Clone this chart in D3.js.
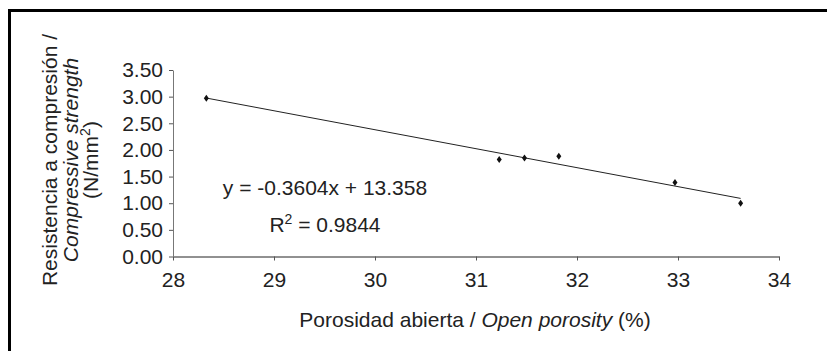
<!DOCTYPE html>
<html><head><meta charset="utf-8">
<script src="https://cdn.jsdelivr.net/npm/d3@7"></script>
<style>body{margin:0;background:#fff}svg{display:block}text{font-family:"Liberation Sans",Arial,sans-serif;fill:#222}</style>
</head><body>
<script>
const porosity = [28.33, 31.23, 31.48, 31.82, 32.97, 33.62];
const strength = [2.97, 1.82, 1.85, 1.88, 1.39, 1.00];
const xTicks = [28, 29, 30, 31, 32, 33, 34];
const yTicks = [0, 0.5, 1, 1.5, 2, 2.5, 3, 3.5];
const eqText = "y = -0.3604x + 13.358";
const r2Value = "0.9844";

const W = 827, H = 351;
const svg = d3.select("body").append("svg").attr("width", W).attr("height", H);

// outer frame
svg.append("rect").attr("x", 9.5).attr("y", 10.5).attr("width", 830).attr("height", 360)
  .attr("fill", "none").attr("stroke", "#000").attr("stroke-width", 3);

const x = d3.scaleLinear().domain([28, 34]).range([173, 779]);
const y = d3.scaleLinear().domain([0, 3.5]).range([256.5, 70]);
const fs = 21;

const xa = svg.append("g").attr("transform", `translate(0,${y(0)})`)
  .call(d3.axisBottom(x).tickValues(xTicks).tickFormat(d3.format("d")).tickSize(4).tickSizeOuter(0));
xa.select(".domain").attr("stroke", "#222");
xa.selectAll(".tick line").attr("stroke", "#555");
xa.selectAll("text").attr("font-size", fs).attr("dy", "1.12em").style("fill", "#222");

const ya = svg.append("g").attr("transform", `translate(${x(28)},0)`)
  .call(d3.axisLeft(y).tickValues(yTicks).tickFormat(d3.format(".2f")).tickSize(4).tickSizeOuter(0));
ya.select(".domain").attr("stroke", "#777");
ya.selectAll(".tick line").attr("stroke", "#555");
ya.selectAll("text").attr("font-size", fs).attr("dx", "-3").style("fill", "#222");

// least squares trend line
const n = porosity.length;
const mx = d3.mean(porosity), my = d3.mean(strength);
let sxy = 0, sxx = 0;
for (let i = 0; i < n; i++) { sxy += (porosity[i]-mx)*(strength[i]-my); sxx += (porosity[i]-mx)**2; }
const slope = sxy / sxx, icpt = my - slope * mx;
const x0 = d3.min(porosity), x1 = d3.max(porosity);
svg.append("line").attr("x1", x(x0)).attr("y1", y(slope*x0+icpt))
  .attr("x2", x(x1)).attr("y2", y(slope*x1+icpt)).attr("stroke", "#222").attr("stroke-width", 1);

// diamond markers
svg.selectAll("path.pt").data(porosity).enter().append("path").attr("class","pt")
  .attr("d", (d,i) => { const cx = x(d), cy = y(strength[i]); return `M${cx},${cy-3.5}L${cx+2.5},${cy}L${cx},${cy+3.5}L${cx-2.5},${cy}Z`; })
  .attr("fill", "#111");

// equation
svg.append("text").attr("x", 325).attr("y", 195).attr("text-anchor","middle").attr("font-size", fs).text(eqText);
const r2 = svg.append("text").attr("x", 325).attr("y", 232).attr("text-anchor","middle").attr("font-size", fs);
r2.append("tspan").text("R");
r2.append("tspan").attr("dy", -8).attr("font-size", 14).text("2");
r2.append("tspan").attr("dy", 8).text(" = " + r2Value);

// x title
const xt = svg.append("text").attr("x", 475).attr("y", 327).attr("text-anchor","middle").attr("font-size", fs);
xt.append("tspan").text("Porosidad abierta / ");
xt.append("tspan").attr("font-style","italic").text("Open porosity");
xt.append("tspan").text(" (%)");

// y title
const yt = svg.append("g").attr("transform", "translate(0,160) rotate(-90)");
yt.append("text").attr("x", 0).attr("y", 57).attr("text-anchor","middle").attr("font-size", fs).text("Resistencia a compresión /");
yt.append("text").attr("x", 0).attr("y", 78).attr("text-anchor","middle").attr("font-size", fs).attr("font-style","italic").text("Compressive strength");
const t3 = yt.append("text").attr("x", 0).attr("y", 98).attr("text-anchor","middle").attr("font-size", fs);
t3.append("tspan").text("(N/mm");
t3.append("tspan").attr("dy", -8).attr("font-size", 14).text("2");
t3.append("tspan").attr("dy", 8).text(")");
</script>
</body></html>
